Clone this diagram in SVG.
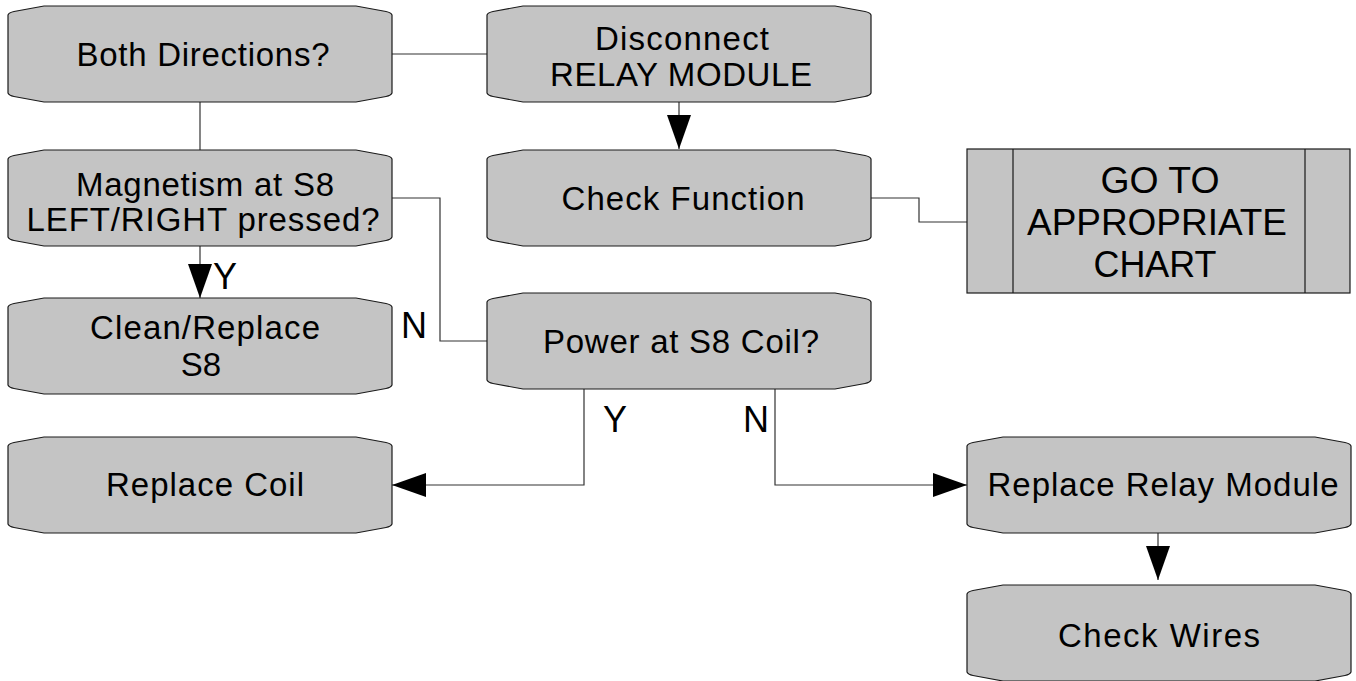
<svg xmlns="http://www.w3.org/2000/svg" xmlns:xlink="http://www.w3.org/1999/xlink" width="1356" height="681" viewBox="0 0 1356 681">
  <style>
    .box { fill: #c4c4c4; stroke: #1a1a1a; stroke-width: 1.2; }
    .txt { font-family: "Liberation Sans", Arial, sans-serif; font-size: 33px; fill: #000; text-anchor: middle; }
    .big { font-family: "Liberation Sans", Arial, sans-serif; font-size: 36px; fill: #000; text-anchor: middle; }
    .lbl { font-family: "Liberation Sans", Arial, sans-serif; font-size: 36px; fill: #000; }
    .wire { fill: none; stroke: #333; stroke-width: 1.2; }
  </style>
  <defs>
    <!-- process box with chamfered corners, 384 x 96 -->
    <path id="pbox" d="M0,9 Q1,6.5 6,5.5 L36,0 H348 L378,5.5 Q383,6.5 384,9 V87 Q383,89.5 378,90.5 L348,96 H36 L6,90.5 Q1,89.5 0,87 Z"/>
    <marker id="arrow" markerUnits="userSpaceOnUse" markerWidth="34" markerHeight="24" refX="34" refY="12" orient="auto">
      <path d="M0,0 L34,12 L0,24 Z" fill="#000"/>
    </marker>
  </defs>

  <rect width="1356" height="681" fill="#fff"/>

  <g id="connectors">
    <path class="wire" d="M392,54 H487"/>
    <path class="wire" d="M200,102 V150"/>
    <path class="wire" d="M679,102 V149" marker-end="url(#arrow)"/>
    <path class="wire" d="M871,198 H919 V222 H967"/>
    <path class="wire" d="M392,198 H440 V341 H487"/>
    <path class="wire" d="M200,246 V298" marker-end="url(#arrow)"/>
    <path class="wire" d="M584,389 V485 H392" marker-end="url(#arrow)"/>
    <path class="wire" d="M775,389 V485 H967" marker-end="url(#arrow)"/>
    <path class="wire" d="M1158,533 V580" marker-end="url(#arrow)"/>
    <text class="lbl" x="213" y="289">Y</text>
    <text class="lbl" x="401" y="338">N</text>
    <text class="lbl" x="603" y="432">Y</text>
    <text class="lbl" x="743" y="432">N</text>
  </g>

  <g id="both-directions">
    <use href="#pbox" class="box" x="8" y="6"/>
    <text class="txt" x="203" y="66" textLength="253">Both Directions?</text>
  </g>

  <g id="disconnect-relay">
    <use href="#pbox" class="box" x="487" y="6"/>
    <text class="txt" x="682" y="50" textLength="174">Disconnect</text>
    <text class="txt" x="681" y="86" textLength="262">RELAY MODULE</text>
  </g>

  <g id="magnetism">
    <use href="#pbox" class="box" x="8" y="150"/>
    <text class="txt" x="205" y="196" textLength="258">Magnetism at S8</text>
    <text class="txt" x="203" y="231" textLength="353">LEFT/RIGHT pressed?</text>
  </g>

  <g id="check-function">
    <use href="#pbox" class="box" x="487" y="150"/>
    <text class="txt" x="683" y="210" textLength="243">Check Function</text>
  </g>

  <g id="goto-chart">
    <rect class="box" x="967" y="149" width="383" height="144"/>
    <path class="box" d="M1013,149 V293 M1305,149 V293"/>
    <text class="big" x="1160" y="193" textLength="119" lengthAdjust="spacingAndGlyphs">GO TO</text>
    <text class="big" x="1157" y="235" textLength="260" lengthAdjust="spacingAndGlyphs">APPROPRIATE</text>
    <text class="big" x="1155" y="277" textLength="123" lengthAdjust="spacingAndGlyphs">CHART</text>
  </g>

  <g id="clean-replace">
    <use href="#pbox" class="box" x="8" y="298"/>
    <text class="txt" x="205" y="339" textLength="230">Clean/Replace</text>
    <text class="txt" x="201" y="376">S8</text>
  </g>

  <g id="power-coil">
    <use href="#pbox" class="box" x="487" y="293"/>
    <text class="txt" x="681" y="353" textLength="276">Power at S8 Coil?</text>
  </g>

  <g id="replace-coil">
    <use href="#pbox" class="box" x="8" y="437"/>
    <text class="txt" x="205" y="496" textLength="198">Replace Coil</text>
  </g>

  <g id="replace-relay">
    <use href="#pbox" class="box" x="967" y="437"/>
    <text class="txt" x="1163" y="496" textLength="351">Replace Relay Module</text>
  </g>

  <g id="check-wires">
    <use href="#pbox" class="box" x="967" y="585"/>
    <text class="txt" x="1159" y="647" textLength="202">Check Wires</text>
  </g>
</svg>
